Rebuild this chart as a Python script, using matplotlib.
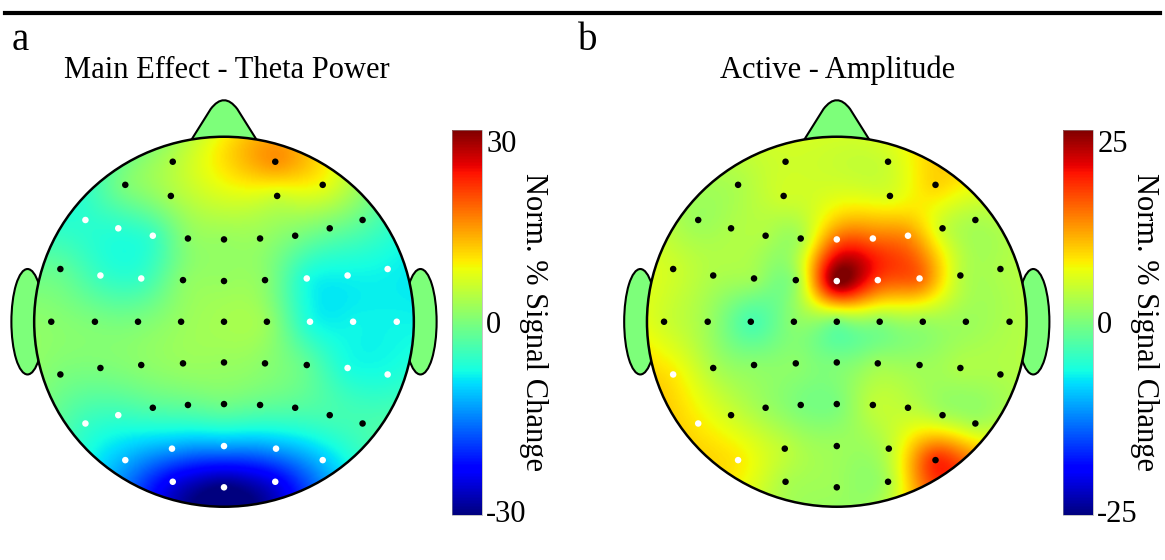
import numpy as np
import matplotlib.pyplot as plt
from matplotlib.patches import Circle, Ellipse, PathPatch
from matplotlib.path import Path
from matplotlib.lines import Line2D

plt.rcParams['font.family'] = ['Liberation Serif', 'DejaVu Serif']

# electrode positions (head radius = 1, nose up)
elec_x = [-0.27, 0.27,
          -0.52, 0.52, -0.28, 0.28,
          -0.73, -0.557, -0.375, -0.19, 0.0, 0.19, 0.375, 0.557, 0.73,
          -0.862, -0.651, -0.436, -0.216, 0.0, 0.216, 0.436, 0.651, 0.862,
          -0.91, -0.68, -0.453, -0.226, 0.0, 0.226, 0.453, 0.68, 0.91,
          -0.862, -0.651, -0.436, -0.216, 0.0, 0.216, 0.436, 0.651, 0.862,
          -0.73, -0.557, -0.375, -0.19, 0.0, 0.19, 0.375, 0.557, 0.73,
          -0.52, -0.274, 0.0, 0.274, 0.52,
          -0.27, 0.0, 0.27]
elec_y = [0.865, 0.865,
          0.74, 0.74, 0.68, 0.68,
          0.55, 0.505, 0.465, 0.45, 0.445, 0.45, 0.465, 0.505, 0.55,
          0.285, 0.25, 0.234, 0.225, 0.22, 0.225, 0.234, 0.25, 0.285,
          0.0, 0.0, 0.0, 0.0, 0.0, 0.0, 0.0, 0.0, 0.0,
          -0.285, -0.25, -0.234, -0.225, -0.22, -0.225, -0.234, -0.25, -0.285,
          -0.55, -0.505, -0.465, -0.45, -0.445, -0.45, -0.465, -0.505, -0.55,
          -0.748, -0.686, -0.672, -0.686, -0.748,
          -0.865, -0.895, -0.865]

# panel a: main effect theta power
vals_a = [4, 15,
          0, 8, 3, 6,
          -6, -6, -5, 1, 2, 2, 0, -1, -2,
          -2, -5, -5, 1, 2, 1, -7, -8, -8,
          1, 0, 0, 2, 3, 2, -7, -8, -8,
          0, 0, 1, 2, 2, 1, -2, -7, -7,
          -5, -5, -3, -2, -1, -2, -3, -4, -4,
          -12, -13, -13, -13, -11,
          -24, -30, -24]
sig_a = [6, 7, 8, 16, 17, 21, 22, 23, 30, 31, 32, 40, 41, 42, 43,
         51, 52, 53, 54, 55, 56, 57, 58]

# panel b: active amplitude
vals_b = [5, 5,
          3, 9, 5, 6,
          2, 3, 3, 3, 15, 15, 13, 5, 3,
          5, 3, 2, 2, 25, 17, 15, 4, 3,
          5, 2, -3, 1, 0, 1, 2, 2, 3,
          8, 3, 1, 1, 0, 2, 2, 3, 3,
          8, 5, 2, 0, 0, 4, 4, 3, 3,
          8, 4, 2, 4, 18,
          3, 2, 3]
sig_b = [10, 11, 12, 19, 20, 21, 33, 42, 51]

titles = ['Main Effect - Theta Power', 'Active - Amplitude']
panel_labels = ['a', 'b']
limits = [30, 25]
cbar_label = 'Norm. % Signal Change'


def green(d):
    with np.errstate(divide='ignore', invalid='ignore'):
        g = d ** 2 * (np.log(d) - 1)
    g[d == 0] = 0
    return g


def topo_grid(vals, n=301):
    ex = np.array(elec_x)
    ey = np.array(elec_y)
    d = np.hypot(ex[:, None] - ex[None, :], ey[:, None] - ey[None, :])
    w = np.linalg.solve(green(d), np.array(vals, float))
    gx, gy = np.meshgrid(np.linspace(-1, 1, n), np.linspace(-1, 1, n))
    dg = np.hypot(gx[..., None] - ex, gy[..., None] - ey)
    return green(dg) @ w


fig = plt.figure(figsize=(11.65, 5.6), dpi=100)
cmap = plt.get_cmap('jet')
skin = cmap(0.5)

fig.add_artist(Line2D([0.004, 0.996], [0.977, 0.977], color='k', lw=3))

head_left = [0.0, 0.526]
cbar_left = [0.388, 0.9125]
title_x = [227 / 1165, 838 / 1165]
label_x = [12 / 1165, 578 / 1165]

for i, vals in enumerate([vals_a, vals_b]):
    sig = [sig_a, sig_b][i]
    lim = limits[i]
    ax = fig.add_axes([head_left[i], 0.0786, 448 / 1165, 0.7598])
    ax.set_xlim(-1.18, 1.18)
    ax.set_ylim(-1.05, 1.25)
    ax.axis('off')

    # ears and nose
    for side in [-1, 1]:
        ax.add_patch(Ellipse((side * 1.035, 0.0), 0.17, 0.57, fc=skin,
                             ec='k', lw=1.5, zorder=1))
    nose = Path([(-0.18, 0.97), (-0.07, 1.15), (0.0, 1.245),
                 (0.07, 1.15), (0.18, 0.97), (-0.18, 0.97)],
                [Path.MOVETO, Path.LINETO, Path.CURVE3, Path.CURVE3,
                 Path.LINETO, Path.CLOSEPOLY])
    ax.add_patch(PathPatch(nose, fc=skin, ec='k', lw=1.5, zorder=1))

    field = topo_grid(vals)
    im = ax.imshow(field, extent=(-1, 1, -1, 1), origin='lower', cmap=cmap,
                   vmin=-lim, vmax=lim, interpolation='bilinear',
                   aspect='auto', zorder=2)
    clip = Circle((0, 0), 1.0, transform=ax.transData)
    im.set_clip_path(clip)
    ax.add_patch(Circle((0, 0), 1.0, fc='none', ec='k', lw=1.8, zorder=3))

    colors = ['white' if k in sig else 'black' for k in range(len(vals))]
    ax.scatter(elec_x, elec_y, s=22, c=colors, edgecolors='none', zorder=4)

    cax = fig.add_axes([cbar_left[i], 0.0804, 30 / 1165, 0.6875])
    cb = fig.colorbar(im, cax=cax, ticks=[-lim, 0, lim])
    cb.outline.set_linewidth(0.4)
    cb.outline.set_edgecolor('#999999')
    cax.tick_params(length=0, labelsize=22, pad=3)
    cax.set_yticklabels([str(-lim), '0', str(lim)])
    labs = cax.get_yticklabels()
    labs[2].set_va('top')
    labs[0].set_va('center')
    cax.text(2.73, 0.5, cbar_label, rotation=270, ha='center', va='center',
             fontsize=22, transform=cax.transAxes)

    fig.text(title_x[i], 1 - 70 / 560, titles[i], ha='center', va='center',
             fontsize=22)
    fig.text(label_x[i], 1 - 41 / 560, panel_labels[i], ha='left',
             va='center', fontsize=28)

fig.savefig('out.png', dpi=100)
